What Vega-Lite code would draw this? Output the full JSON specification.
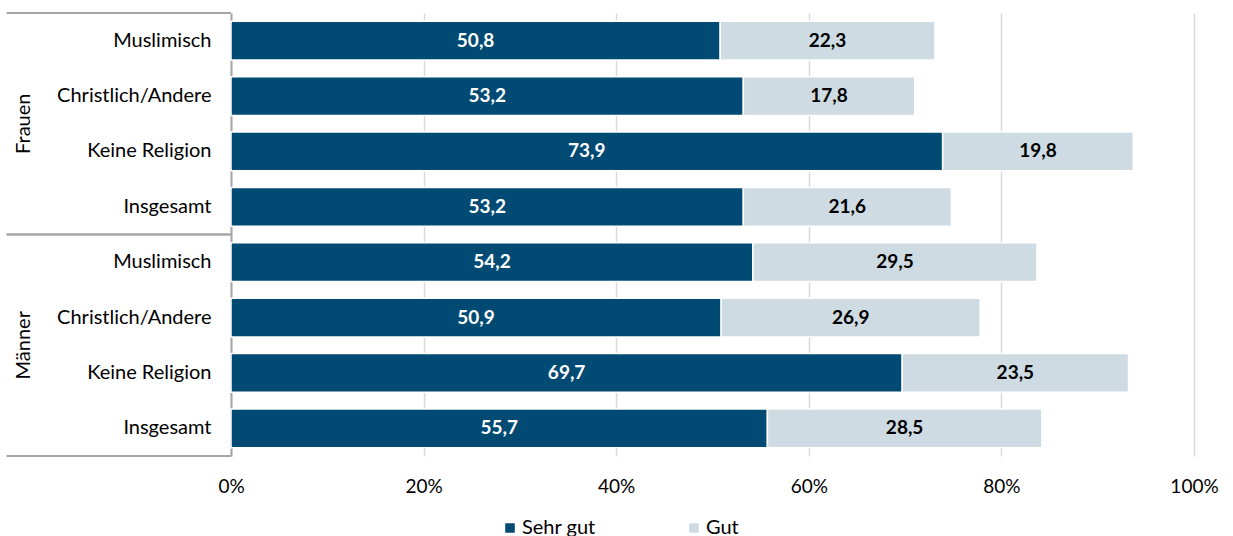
{
  "$schema": "https://vega.github.io/schema/vega-lite/v6.json",
  "width": 963,
  "height": 443,
  "padding": {"left": 5, "top": 12, "right": 5, "bottom": 0},
  "background": "white",
  "config": {
    "font": "Lato",
    "view": {"stroke": null},
    "locale": {"number": {"decimal": ",", "thousands": ".", "grouping": [3], "currency": ["", " €"]}}
  },
  "layer": [
    {
      "data": {"values": [
        {"row": "Frauen|Muslimisch", "cat": "Sehr gut", "k": 1, "v": 50.8},
        {"row": "Frauen|Muslimisch", "cat": "Gut", "k": 2, "v": 22.3},
        {"row": "Frauen|Christlich/Andere", "cat": "Sehr gut", "k": 1, "v": 53.2},
        {"row": "Frauen|Christlich/Andere", "cat": "Gut", "k": 2, "v": 17.8},
        {"row": "Frauen|Keine Religion", "cat": "Sehr gut", "k": 1, "v": 73.9},
        {"row": "Frauen|Keine Religion", "cat": "Gut", "k": 2, "v": 19.8},
        {"row": "Frauen|Insgesamt", "cat": "Sehr gut", "k": 1, "v": 53.2},
        {"row": "Frauen|Insgesamt", "cat": "Gut", "k": 2, "v": 21.6},
        {"row": "Männer|Muslimisch", "cat": "Sehr gut", "k": 1, "v": 54.2},
        {"row": "Männer|Muslimisch", "cat": "Gut", "k": 2, "v": 29.5},
        {"row": "Männer|Christlich/Andere", "cat": "Sehr gut", "k": 1, "v": 50.9},
        {"row": "Männer|Christlich/Andere", "cat": "Gut", "k": 2, "v": 26.9},
        {"row": "Männer|Keine Religion", "cat": "Sehr gut", "k": 1, "v": 69.7},
        {"row": "Männer|Keine Religion", "cat": "Gut", "k": 2, "v": 23.5},
        {"row": "Männer|Insgesamt", "cat": "Sehr gut", "k": 1, "v": 55.7},
        {"row": "Männer|Insgesamt", "cat": "Gut", "k": 2, "v": 28.5}
      ]},
      "transform": [
        {"stack": "v", "groupby": ["row"], "sort": [{"field": "k"}], "as": ["x0", "x1"]},
        {"calculate": "(datum.x0 + datum.x1) / 2", "as": "xm"}
      ],
      "layer": [
        {
          "mark": {"type": "bar", "stroke": "white", "strokeWidth": 1.5},
          "encoding": {
            "y": {
              "field": "row", "type": "nominal", "sort": null, "title": null,
              "scale": {"paddingInner": 0.3, "paddingOuter": 0.15},
              "axis": {
                "labelExpr": "split(datum.label, '|')[1]",
                "labelFontSize": 20, "labelColor": "#000000", "labelPadding": 20,
                "ticks": false, "domainColor": "#A6A6A6", "domainWidth": 2, "labelLimit": 300
              }
            },
            "x": {
              "field": "x0", "type": "quantitative", "title": null,
              "scale": {"domain": [0, 100], "nice": false},
              "axis": {
                "values": [0, 20, 40, 60, 80, 100],
                "labelExpr": "datum.value + '%'",
                "labelFontSize": 19, "labelColor": "#000000", "labelPadding": 21,
                "labelFlush": false,
                "ticks": false, "domain": false,
                "grid": true, "gridColor": "#D9D9D9", "gridWidth": 1.5
              }
            },
            "x2": {"field": "x1"},
            "color": {
              "field": "cat", "type": "nominal",
              "scale": {"domain": ["Sehr gut", "Gut"], "range": ["#004A73", "#CEDBE3"]},
              "legend": {
                "title": null, "orient": "none", "direction": "horizontal",
                "legendX": 269, "legendY": 505,
                "symbolType": "square", "symbolSize": 90, "symbolStrokeWidth": 0,
                "labelFontSize": 20, "labelColor": "#000000", "labelOffset": 2,
                "columnPadding": 88
              }
            }
          }
        },
        {
          "mark": {"type": "text", "fontSize": 19, "fontWeight": "bold", "baseline": "middle", "align": "center"},
          "encoding": {
            "y": {"field": "row", "type": "nominal", "sort": null},
            "x": {"field": "xm", "type": "quantitative"},
            "text": {"field": "v", "type": "quantitative", "format": ".1f"},
            "color": {"condition": {"test": "datum.cat === 'Sehr gut'", "value": "#FFFFFF"}, "value": "#000000"}
          }
        }
      ]
    },
    {
      "data": {"values": [{"group": "Frauen"}, {"group": "Männer"}]},
      "layer": [
        {
          "mark": {"type": "rule", "color": "#A6A6A6", "strokeWidth": 2},
          "encoding": {
            "y": {"field": "group", "type": "nominal", "bandPosition": 0, "scale": {"padding": 0}, "axis": null},
            "x": {"datum": -23.3, "type": "quantitative"},
            "x2": {"datum": 0}
          }
        },
        {
          "mark": {"type": "rule", "color": "#A6A6A6", "strokeWidth": 2},
          "encoding": {
            "y": {"field": "group", "type": "nominal", "bandPosition": 1, "scale": {"padding": 0}, "axis": null},
            "x": {"datum": -23.3, "type": "quantitative"},
            "x2": {"datum": 0}
          }
        },
        {
          "mark": {"type": "text", "angle": 270, "fontSize": 20, "baseline": "middle", "align": "center", "color": "#000000"},
          "encoding": {
            "y": {"field": "group", "type": "nominal", "scale": {"padding": 0}, "axis": null},
            "x": {"datum": -21.5, "type": "quantitative"},
            "text": {"field": "group"}
          }
        }
      ]
    }
  ],
  "resolve": {"scale": {"y": "independent"}}
}
